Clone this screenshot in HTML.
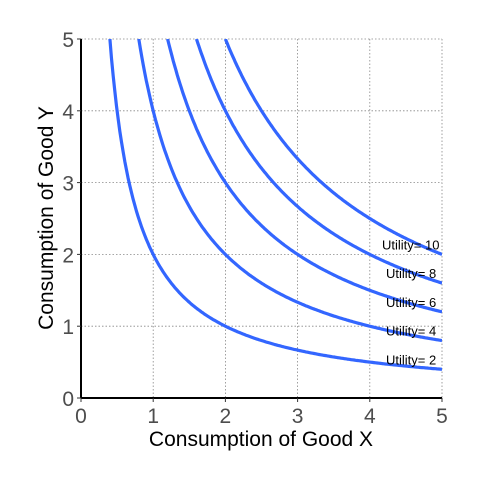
<!DOCTYPE html>
<html><head><meta charset="utf-8"><style>
body{margin:0;background:#fff;font-family:"Liberation Sans",sans-serif}
</style></head><body>
<svg id="chart" width="480" height="480" xmlns="http://www.w3.org/2000/svg">
<defs><clipPath id="clip"><rect x="81" y="39" width="361" height="359"/></clipPath></defs>
<rect width="480" height="480" fill="#fff"/>
<g id="grid"></g>
<g id="curves" clip-path="url(#clip)"></g>
<g id="labels" clip-path="url(#clip)"></g>
<line x1="81" y1="39" x2="81" y2="398" stroke="#000" stroke-width="2"/>
<line x1="81" y1="398" x2="442" y2="398" stroke="#000" stroke-width="2"/>
<g id="ticks"></g>
<text x="261" y="446" text-anchor="middle" font-size="21" fill="#000">Consumption of Good X</text>
<text transform="translate(53,218) rotate(-90)" text-anchor="middle" font-size="21" fill="#000">Consumption of Good Y</text>
</svg>
<script>
const utilities=[2,4,6,8,10];
const labelTexts=["Utility= 2","Utility= 4","Utility= 6","Utility= 8","Utility= 10"];
const xTicks=[0,1,2,3,4,5];
const yTicks=[0,1,2,3,4,5];
const NS="http://www.w3.org/2000/svg";
const sx=v=>81+v*72.2, sy=v=>398-v*71.8;
const grid=document.getElementById('grid'),ticks=document.getElementById('ticks'),curves=document.getElementById('curves'),labels=document.getElementById('labels');
function mk(t,a,p){const e=document.createElementNS(NS,t);for(const k in a)e.setAttribute(k,a[k]);p.appendChild(e);return e;}
xTicks.forEach(v=>{
 const g=mk('line',{x1:sx(v),x2:sx(v),y1:39,y2:398,stroke:'#888','stroke-width':0.8,'stroke-dasharray':'1.5,2'},grid);
 
 
 const tk=mk('line',{x1:sx(v),x2:sx(v),y1:398,y2:402,stroke:'#333'},ticks);
 
 
 const t=mk('text',{x:sx(v),y:423,'text-anchor':'middle','font-size':21,fill:'#4d4d4d'},ticks);t.textContent=v;
 
 
});
yTicks.forEach(v=>{
 const g=mk('line',{x1:81,x2:442,y1:sy(v),y2:sy(v),stroke:'#888','stroke-width':0.8,'stroke-dasharray':'1.5,2'},grid);
 
 
 const tk=mk('line',{x1:77,x2:81,y1:sy(v),y2:sy(v),stroke:'#333'},ticks);
 
 
 const t=mk('text',{x:74,y:sy(v)+8,'text-anchor':'end','font-size':21,fill:'#4d4d4d'},ticks);t.textContent=v;
 
 
});
utilities.forEach((u,i)=>{
 let pts=[];const x0=u/5;
 for(let k=0;k<=200;k++){const x=x0+(5-x0)*k/200;pts.push(sx(x).toFixed(1)+','+sy(u/x).toFixed(1));}
 const p=mk('polyline',{points:pts.join(' '),fill:'none',stroke:'#3366ff','stroke-width':3.2,'stroke-linejoin':'round'},curves);
 
 
 const t=mk('text',{x:u>=10?382:386,y:sy(u/5)-5,'font-size':13,fill:'#000'},labels);t.textContent=labelTexts[i];
 
 
});
</script>
</body></html>
